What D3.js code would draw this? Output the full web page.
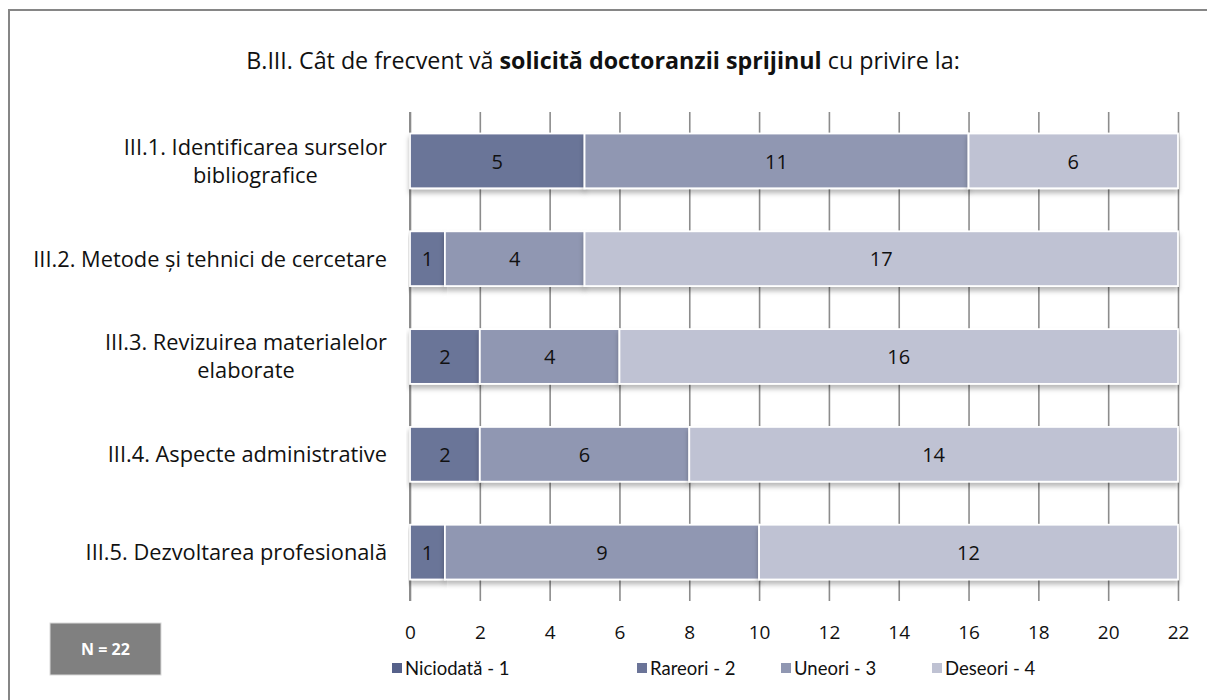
<!DOCTYPE html>
<html><head><meta charset="utf-8">
<script src="https://cdn.jsdelivr.net/npm/d3@7"></script>
<style>
html,body{margin:0;padding:0;background:#fff;}
svg{display:block;}
text{font-family:"Open Sans",Lato,sans-serif;fill:#111;}
</style></head>
<body>
<script>
const categories = [
  ["III.1. Identificarea surselor","bibliografice"],
  ["III.2. Metode și tehnici de cercetare"],
  ["III.3. Revizuirea  materialelor","elaborate"],
  ["III.4. Aspecte administrative"],
  ["III.5. Dezvoltarea profesională"]
];
const seriesNames = ["Niciodată - 1","Rareori - 2","Uneori - 3","Deseori - 4"];
const niciodata = [0,0,0,0,0];
const rareori   = [5,1,2,2,1];
const uneori    = [11,4,4,6,9];
const deseori   = [6,17,16,14,12];
const xTicks = [0,2,4,6,8,10,12,14,16,18,20,22];
const colors = ["#56618a","#6b7498","#9097b2","#bfc2d3"];

const W=1207,H=700;
const svg=d3.select("body").append("svg").attr("width",W).attr("height",H);

const defs=svg.append("defs");
const f=defs.append("filter").attr("id","sh").attr("x","-5%").attr("y","-20%").attr("width","110%").attr("height","160%");
f.append("feDropShadow").attr("dx",0).attr("dy",4).attr("stdDeviation",2.5).attr("flood-color","#000").attr("flood-opacity",0.28);

// frame (left and top edges visible)
svg.append("rect").attr("x",9).attr("y",10).attr("width",W+20).attr("height",H+20).attr("fill","none").attr("stroke","#868686").attr("stroke-width",2);

// title
const title=svg.append("text").attr("x",603).attr("y",69).attr("text-anchor","middle").style("font-size","19px");
title.append("tspan").text("B.III. Cât de frecvent vă ");
title.append("tspan").style("font-weight","bold").text("solicită doctoranzii sprijinul");
title.append("tspan").text(" cu privire la:");
{
  const w=title.node().getComputedTextLength();
  title.style("font-size",(19*714/w)+"px");
}

const rows = categories.map((c,i)=>({key:i, label:c, v:[niciodata[i],rareori[i],uneori[i],deseori[i]]}));
const x=d3.scaleLinear().domain([0,22]).range([410,1178]);
const y=d3.scaleBand().domain(rows.map(r=>r.key)).range([112,601]).paddingInner(0.44).paddingOuter(0.22);

// grid lines
svg.append("g").attr("transform","translate(0,601)")
  .call(d3.axisBottom(x).tickValues(xTicks).tickSize(489).tickFormat(""))
  .call(g=>{g.select(".domain").remove();
    g.selectAll("line").attr("y1",-489).attr("y2",0).attr("stroke","#8c8c8c").attr("stroke-width",1.6);});
// left axis line
svg.append("line").attr("x1",x(0)).attr("x2",x(0)).attr("y1",112).attr("y2",601).attr("stroke","#8c8c8c").attr("stroke-width",2);

// tick labels
svg.append("g").attr("transform","translate(0,639)")
  .call(d3.axisBottom(x).tickValues(xTicks).tickSize(0).tickPadding(0))
  .call(g=>{g.select(".domain").remove();
    g.selectAll("text").attr("dy",0).style("font-size","19px").style("font-family","'Open Sans',sans-serif").attr("fill","#111");});

// bars
const stack=d3.stack().keys([0,1,2,3]).value((d,k)=>d.v[k]);
const st=stack(rows);
const bg=svg.append("g");
st.forEach((s,si)=>{
  bg.selectAll(null).data(s.filter(d=>d[1]-d[0]>0)).enter().append("rect")
    .attr("x",d=>x(d[0])).attr("width",d=>x(d[1])-x(d[0]))
    .attr("y",d=>y(d.data.key)).attr("height",y.bandwidth())
    .attr("fill",colors[si]).attr("stroke","#fff").attr("stroke-width",1.8)
    .attr("filter","url(#sh)");
});
st.forEach((s,si)=>{
  bg.selectAll(null).data(s.filter(d=>d[1]-d[0]>0)).enter().append("text")
    .attr("x",d=>(x(d[0])+x(d[1]))/2).attr("y",d=>y(d.data.key)+y.bandwidth()/2)
    .attr("dy","0.38em").attr("text-anchor","middle").style("font-size","20px")
    .text(d=>d[1]-d[0]);
});

// category labels
const lg=svg.append("g");
const probe=lg.append("text").style("font-size","20px").text(categories[1][0]);
const labSize=20*354/probe.node().getComputedTextLength();
probe.remove();
rows.forEach(r=>{
  const cy=y(r.key)+y.bandwidth()/2;
  const n=r.label.length, lh=28;
  const t=lg.append("text").attr("y",cy).style("font-size",labSize+"px");
  r.label.forEach((ln,i)=>{
    t.append("tspan").attr("y",cy+(i-(n-1)/2)*lh).attr("dy","0.36em").text(ln);
  });
  const tspans=t.selectAll("tspan").nodes();
  const mw=d3.max(tspans.map(n=>n.getComputedTextLength()));
  const right=387;
  tspans.forEach(node=>{d3.select(node).attr("x",right-mw/2).attr("text-anchor","middle");});
});

// N box
svg.append("rect").attr("x",50).attr("y",623).attr("width",111).attr("height",52).attr("fill","#808080").attr("stroke","#d9d9d9").attr("stroke-width",1);
svg.append("text").attr("x",105.5).attr("y",649).attr("dy","0.35em").attr("text-anchor","middle").style("font-size","16px").style("font-weight","bold").style("fill","#fff").text("N = 22");

// legend
const legX=[392,637,781,932];
const leg=svg.append("g");
seriesNames.forEach((nm,i)=>{
  leg.append("rect").attr("x",legX[i]).attr("y",663).attr("width",10).attr("height",10).attr("fill",colors[i]);
  leg.append("text").attr("x",legX[i]+13).attr("y",668).attr("dy","0.36em").style("font-family","Lato,sans-serif").style("font-size","18.5px").text(nm);
});
</script>
</body></html>
